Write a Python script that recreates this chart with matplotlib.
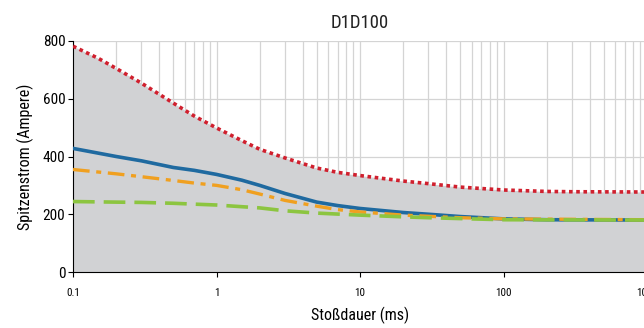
import numpy as np
import matplotlib.pyplot as plt
from matplotlib.ticker import LogLocator, FixedLocator, NullFormatter

plt.rcParams['font.family'] = ['Roboto Condensed', 'DejaVu Sans']

# pulse duration (ms) and peak current (A) per curve
t_red = [0.1, 0.15, 0.2, 0.3, 0.5, 0.7, 1, 1.5, 2, 3, 5, 7, 10, 20, 30, 50, 100, 200, 300, 1000]
red = [782, 740, 705, 654, 585, 540, 499, 455, 425, 395, 360, 345, 334, 315, 306, 294, 284, 279, 278, 277]
t_blue = [0.1, 0.2, 0.3, 0.5, 0.7, 1, 1.5, 2, 3, 5, 7, 10, 20, 30, 50, 100, 200, 1000]
blue = [428, 400, 385, 362, 352, 338, 318, 300, 272, 242, 230, 220, 206, 200, 192, 184, 181, 180]
t_orange = [0.1, 0.2, 0.3, 0.5, 0.7, 1, 1.5, 2, 3, 5, 7, 10, 20, 30, 50, 100, 1000]
orange = [355, 340, 330, 317, 308, 300, 285, 270, 248, 228, 216, 208, 197, 193, 188, 184, 181]
t_green = [0.1, 0.2, 0.3, 0.5, 0.7, 1, 2, 3, 5, 10, 20, 30, 50, 100, 1000]
green = [244, 242, 241, 238, 235, 232, 222, 212, 204, 197, 191, 188, 185, 181, 180]

fig = plt.figure(figsize=(6.44, 3.28), dpi=100)
ax = fig.add_axes([73/644, 1-272/328, 574/644, 231/328])

ax.fill_between(t_red, 0, red, color='#d1d2d4', zorder=1, lw=0)
ax.plot(t_red, red, color='#d0202e', lw=2.6, ls=(0, (1, 1)), zorder=3)
ax.plot(t_blue, blue, color='#1f6aa0', lw=2.6, zorder=3)
ax.plot(t_orange, orange, color='#f0a020', lw=2.4, ls=(0, (5, 2, 1.5, 2)), zorder=4)
ax.plot(t_green, green, color='#8cc540', lw=2.6, ls=(0, (6, 2.5)), zorder=5)

ax.set_xscale('log')
ax.set_xlim(0.1, 1000)
ax.set_ylim(0, 800)
ax.xaxis.set_major_locator(FixedLocator([0.1, 1, 10, 100, 1000]))
ax.set_xticklabels(['0.1', '1', '10', '100', '1000'], fontsize=8)
ax.xaxis.set_minor_locator(LogLocator(base=10, subs=np.arange(2, 10)))
ax.xaxis.set_minor_formatter(NullFormatter())
ax.tick_params(axis='x', which='minor', length=0)
ax.set_yticks([0, 200, 400, 600, 800])
ax.tick_params(axis='y', labelsize=11, pad=2)
ax.tick_params(axis='x', which='major', pad=8)

ax.grid(True, which='both', axis='x', color='#d4d4d4', lw=0.9, zorder=0)
ax.grid(True, which='major', axis='y', color='#d4d4d4', lw=0.9, zorder=0)
ax.set_axisbelow(True)
for s in ['top', 'right']:
    ax.spines[s].set_visible(False)

ax.set_title('D1D100', fontsize=13.5, color='#222222', pad=9)
ax.set_xlabel('Stoßdauer (ms)', fontsize=11.5, labelpad=6)
ax.set_ylabel('Spitzenstrom (Ampere)', fontsize=11.5, labelpad=6)

fig.savefig('out.png', dpi=100)
